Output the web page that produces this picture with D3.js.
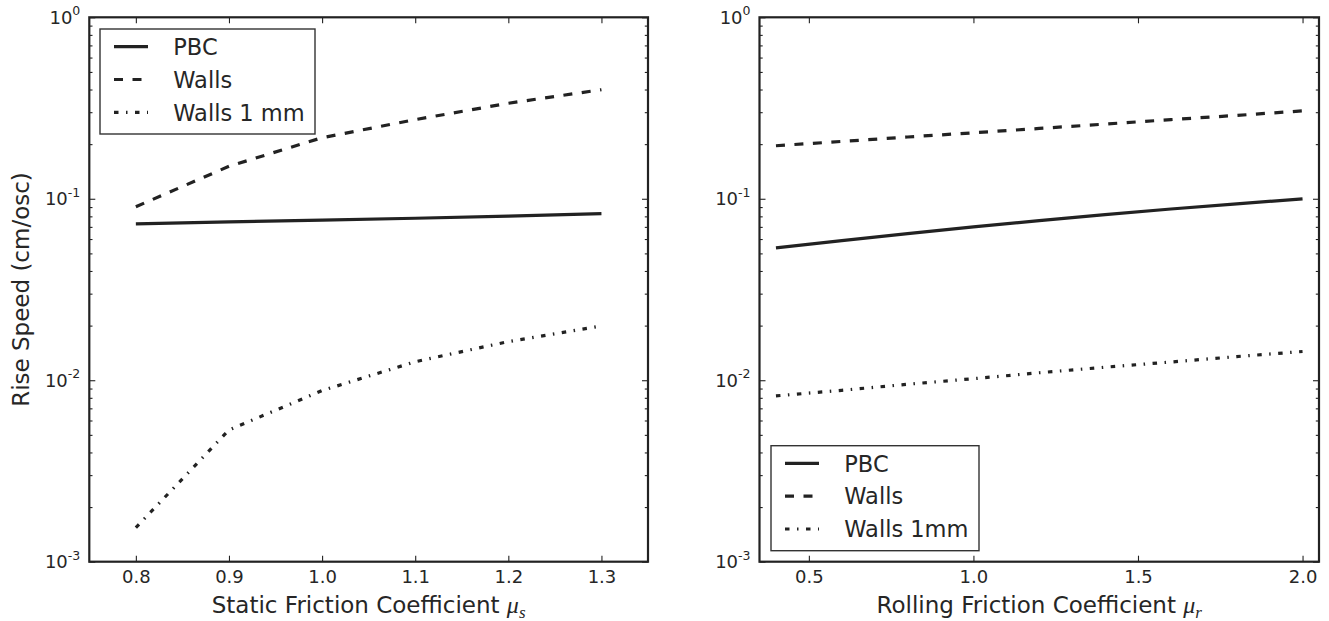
<!DOCTYPE html>
<html>
<head>
<meta charset="utf-8">
<script src="https://cdn.jsdelivr.net/npm/d3@7"></script>
<style>
  html, body { margin: 0; padding: 0; background: #fff; }
  svg { display: block; }
  text { font-family: "DejaVu Sans", sans-serif; fill: #262626; }
</style>
</head>
<body>
<svg id="chart" width="1329" height="621"></svg>
<script>
// ---------- data ----------
const staticX      = [0.8, 0.9, 1.0, 1.1, 1.2, 1.3];
const staticPBC    = [0.0727, 0.0745, 0.0763, 0.0781, 0.0802, 0.0828];
const staticWalls  = [0.0904, 0.151, 0.217, 0.273, 0.336, 0.399];
const staticWalls1 = [0.00154, 0.00532, 0.00877, 0.01265, 0.01633, 0.0199];

const rollX      = [0.4, 0.6, 0.8, 1.0, 1.2, 1.4, 1.6, 1.8, 2.0];
const rollPBC    = [0.0536, 0.0588, 0.0643, 0.0700, 0.0758, 0.0817, 0.0878, 0.0938, 0.0998];
const rollWalls  = [0.196, 0.207, 0.219, 0.231, 0.244, 0.258, 0.273, 0.288, 0.305];
const rollWalls1 = [0.0082, 0.0088, 0.0095, 0.0102, 0.0110, 0.0118, 0.0126, 0.0135, 0.0144];

const staticTicks = [0.8, 0.9, 1.0, 1.1, 1.2, 1.3];
const rollTicks   = [0.5, 1.0, 1.5, 2.0];
const yMajor      = [1e-3, 1e-2, 1e-1, 1e0];
const yExponents  = ["-3", "-2", "-1", "0"];
const legendLeft  = ["PBC", "Walls", "Walls 1 mm"];
const legendRight = ["PBC", "Walls", "Walls 1mm"];

// ---------- styles ----------
const INK = "#222";
const styles = [
  { dash: null },
  { dash: "9,9.5" },
  { dash: "4.5,7.5,1.5,7.5" }
];

const svg = d3.select("#chart");
const yTop = 17.3, yBottom = 561.7;

const yMinor = [];
for (let e = -3; e < 0; e++) for (let m = 2; m <= 9; m++) yMinor.push(m * Math.pow(10, e));

function panel(opt) {
  const x = d3.scaleLinear().domain(opt.xDomain).range([opt.left, opt.right]);
  const y = d3.scaleLog().domain([1e-3, 1]).range([yBottom, yTop]);
  const g = svg.append("g");

  // lines
  const line = d3.line().x(d => x(d[0])).y(d => y(d[1]));
  opt.series.forEach((s, i) => {
    g.append("path")
      .datum(opt.xs.map((v, j) => [v, s[j]]))
      .attr("d", line)
      .attr("fill", "none")
      .attr("stroke", INK)
      .attr("stroke-width", 3.2)
      .attr("stroke-dasharray", styles[i].dash)
      .attr("stroke-linejoin", "round");
  });

  // axes (ticks inward)
  const axB = g.append("g").attr("transform", `translate(0,${yBottom})`)
    .call(d3.axisBottom(x).tickValues(opt.ticks).tickSize(-6).tickFormat(d3.format(".1f")));
  const axT = g.append("g").attr("transform", `translate(0,${yTop})`)
    .call(d3.axisTop(x).tickValues(opt.ticks).tickSize(-6).tickFormat(""));
  const axL = g.append("g").attr("transform", `translate(${opt.left},0)`)
    .call(d3.axisLeft(y).tickValues(yMajor).tickSize(-6).tickFormat(""));
  const axLm = g.append("g").attr("transform", `translate(${opt.left},0)`)
    .call(d3.axisLeft(y).tickValues(yMinor).tickSize(-3.2).tickFormat(""));
  const axR = g.append("g").attr("transform", `translate(${opt.right},0)`)
    .call(d3.axisRight(y).tickValues(yMajor).tickSize(-6).tickFormat(""));
  const axRm = g.append("g").attr("transform", `translate(${opt.right},0)`)
    .call(d3.axisRight(y).tickValues(yMinor).tickSize(-3.2).tickFormat(""));
  [axB, axT, axL, axLm, axR, axRm].forEach(a => {
    a.select(".domain").remove();
    a.selectAll("line").attr("stroke", INK).attr("stroke-width", 1.1);
  });
  axB.selectAll("text")
    .attr("y", 21.3).attr("dy", 0)
    .style("font-family", "DejaVu Sans").style("font-size", "18px").attr("fill", "#262626");

  // y tick labels 10^n
  yMajor.forEach((v, i) => {
    const t = g.append("text")
      .attr("x", opt.left - 9)
      .attr("y", y(v) + 6.5)
      .attr("text-anchor", "end")
      .style("font-size", "18px");
    t.append("tspan").text("10");
    t.append("tspan").attr("dy", -8.5).style("font-size", "12.5px").text(yExponents[i]);
  });

  // frame
  g.append("rect")
    .attr("x", opt.left).attr("y", yTop)
    .attr("width", opt.right - opt.left).attr("height", yBottom - yTop)
    .attr("fill", "none").attr("stroke", INK).attr("stroke-width", 2.2);

  // x label
  const cx = (opt.left + opt.right) / 2;
  const xl = g.append("text").attr("x", cx).attr("y", 613)
    .attr("text-anchor", "middle").style("font-size", "23px");
  xl.append("tspan").text(opt.xlabel + " ");
  xl.append("tspan").style("font-family", "Liberation Serif, serif")
    .style("font-style", "italic").style("font-size", "24px").text("μ");
  xl.append("tspan").attr("dy", 5).style("font-family", "Liberation Serif, serif")
    .style("font-style", "italic").style("font-size", "17px").text(opt.sub);

  // legend
  const lg = g.append("g").attr("transform", `translate(${opt.legX},${opt.legY})`);
  lg.append("rect").attr("width", opt.legW).attr("height", 105)
    .attr("fill", "#fff").attr("stroke", "#333").attr("stroke-width", 1.4);
  opt.legend.forEach((name, i) => {
    const ry = 17.7 + i * 32.8;
    lg.append("line").attr("x1", 14).attr("x2", 48).attr("y1", ry).attr("y2", ry)
      .attr("stroke", INK).attr("stroke-width", 3.2)
      .attr("stroke-dasharray", styles[i].dash);
    lg.append("text").attr("x", 73.3).attr("y", ry + 8.2)
      .style("font-size", "22.5px").text(name);
  });
}

panel({
  left: 89.3, right: 648, xDomain: [0.75, 1.35], ticks: staticTicks,
  xs: staticX, series: [staticPBC, staticWalls, staticWalls1],
  xlabel: "Static Friction Coefficient", sub: "s",
  legend: legendLeft, legX: 100, legY: 29, legW: 215
});
panel({
  left: 759.5, right: 1319, xDomain: [0.35, 2.05], ticks: rollTicks,
  xs: rollX, series: [rollPBC, rollWalls, rollWalls1],
  xlabel: "Rolling Friction Coefficient", sub: "r",
  legend: legendRight, legX: 771, legY: 445.7, legW: 208
});

// y label
svg.append("text")
  .attr("transform", `translate(29,${(yTop + yBottom) / 2}) rotate(-90)`)
  .attr("text-anchor", "middle")
  .style("font-size", "23px")
  .text("Rise Speed (cm/osc)");
</script>
</body>
</html>
